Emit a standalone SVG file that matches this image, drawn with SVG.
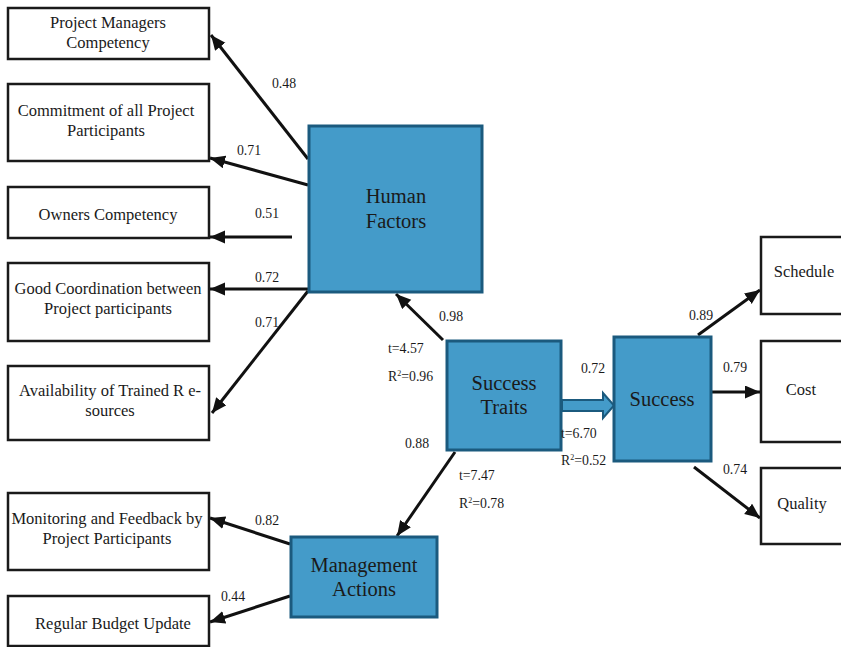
<svg xmlns="http://www.w3.org/2000/svg" width="841" height="647" viewBox="0 0 841 647">
  <style>
    .box { fill: #ffffff; stroke: #1a1a1a; stroke-width: 2.5; }
    .lv { fill: #449bc9; stroke: #1b5a7e; stroke-width: 3; }
    .t { font-family: "Liberation Serif", "Times New Roman", serif; fill: #1a1a1a; }
    .bt { font-size: 16.5px; text-anchor: middle; }
    .lt { font-size: 20.5px; text-anchor: middle; }
    .num { font-size: 13.8px; }
    .c { text-anchor: middle; }
    .edge { stroke: #111111; stroke-width: 3; fill: none; marker-end: url(#ah); }
  </style>
  <defs>
    <marker id="ah" markerUnits="userSpaceOnUse" markerWidth="16" markerHeight="14" refX="15" refY="6.5" orient="auto">
      <path d="M0,0 L15,6.5 L0,13 Z" fill="#111111"/>
    </marker>
  </defs>

  <!-- connectors -->
  <g id="connectors">
    <line class="edge" x1="308" y1="159" x2="211" y2="35"/>
    <line class="edge" x1="308" y1="185" x2="210" y2="158"/>
    <line class="edge" x1="292" y1="237" x2="210" y2="237"/>
    <line class="edge" x1="308" y1="289" x2="210" y2="289"/>
    <line class="edge" x1="308" y1="291" x2="212" y2="413"/>
    <line class="edge" x1="443" y1="340" x2="396" y2="294"/>
    <line class="edge" x1="455" y1="452" x2="397" y2="536"/>
    <line class="edge" x1="698" y1="335" x2="760" y2="290"/>
    <line class="edge" x1="712" y1="392" x2="760" y2="392"/>
    <line class="edge" x1="694" y1="467" x2="760" y2="518"/>
    <line class="edge" x1="290" y1="544" x2="210" y2="518"/>
    <line class="edge" x1="290" y1="596" x2="210" y2="622"/>
    <!-- wide structural arrow between the two constructs -->
    <polygon points="562,400 603,400 603,393 614,405.5 603,418 603,411 562,411" fill="#449bc9" stroke="#1b5a7e" stroke-width="2"/>
  </g>

  <!-- indicator boxes -->
  <g id="pm-competency">
    <rect class="box" x="8" y="8" width="201" height="51"/>
    <text class="t bt" x="108" y="28">Project Managers</text>
    <text class="t bt" x="108" y="48">Competency</text>
  </g>
  <g id="commitment">
    <rect class="box" x="8" y="84" width="201" height="77"/>
    <text class="t bt" x="106" y="116">Commitment of all Project</text>
    <text class="t bt" x="106" y="136">Participants</text>
  </g>
  <g id="owners-competency">
    <rect class="box" x="8" y="187" width="201" height="51"/>
    <text class="t bt" x="108" y="220">Owners Competency</text>
  </g>
  <g id="coordination">
    <rect class="box" x="8" y="263" width="201" height="78"/>
    <text class="t bt" x="108" y="294">Good Coordination between</text>
    <text class="t bt" x="108" y="314">Project participants</text>
  </g>
  <g id="trained-resources">
    <rect class="box" x="8" y="366" width="201" height="74"/>
    <text class="t bt" x="110" y="396">Availability of Trained R e-</text>
    <text class="t bt" x="110" y="416">sources</text>
  </g>
  <g id="monitoring">
    <rect class="box" x="8" y="493" width="201" height="77"/>
    <text class="t bt" x="107" y="524">Monitoring and Feedback by</text>
    <text class="t bt" x="107" y="544">Project Participants</text>
  </g>
  <g id="budget-update">
    <rect class="box" x="8" y="596" width="201" height="50"/>
    <text class="t bt" x="113" y="629">Regular Budget Update</text>
  </g>
  <g id="schedule">
    <rect class="box" x="761" y="237" width="82" height="77"/>
    <text class="t bt" x="804" y="277">Schedule</text>
  </g>
  <g id="cost">
    <rect class="box" x="761" y="341" width="82" height="101"/>
    <text class="t bt" x="801" y="395">Cost</text>
  </g>
  <g id="quality">
    <rect class="box" x="761" y="468" width="82" height="76"/>
    <text class="t bt" x="802" y="509">Quality</text>
  </g>

  <!-- latent constructs -->
  <g id="human-factors">
    <rect class="lv" x="309" y="126" width="173" height="166"/>
    <text class="t lt" x="396" y="203">Human</text>
    <text class="t lt" x="396" y="228">Factors</text>
  </g>
  <g id="success-traits">
    <rect class="lv" x="447" y="341" width="114" height="109"/>
    <text class="t lt" x="504" y="390">Success</text>
    <text class="t lt" x="504" y="414">Traits</text>
  </g>
  <g id="success">
    <rect class="lv" x="614" y="337" width="97" height="124"/>
    <text class="t lt" x="662" y="406">Success</text>
  </g>
  <g id="management-actions">
    <rect class="lv" x="291" y="537" width="146" height="80"/>
    <text class="t lt" x="364" y="572">Management</text>
    <text class="t lt" x="364" y="596">Actions</text>
  </g>

  <!-- path coefficients and statistics -->
  <g id="labels">
    <text class="t num c" x="284" y="88">0.48</text>
    <text class="t num c" x="249" y="155">0.71</text>
    <text class="t num c" x="267" y="218">0.51</text>
    <text class="t num c" x="267" y="282">0.72</text>
    <text class="t num c" x="267" y="327">0.71</text>
    <text class="t num c" x="451" y="321">0.98</text>
    <text class="t num" x="388" y="353">t=4.57</text>
    <text class="t num" x="388" y="381">R<tspan font-size="8" dy="-5">2</tspan><tspan dy="5">=0.96</tspan></text>
    <text class="t num c" x="417" y="448">0.88</text>
    <text class="t num" x="459" y="480">t=7.47</text>
    <text class="t num" x="459" y="508">R<tspan font-size="8" dy="-5">2</tspan><tspan dy="5">=0.78</tspan></text>
    <text class="t num c" x="593" y="373">0.72</text>
    <text class="t num" x="561" y="438">t=6.70</text>
    <text class="t num" x="561" y="465">R<tspan font-size="8" dy="-5">2</tspan><tspan dy="5">=0.52</tspan></text>
    <text class="t num c" x="701" y="320">0.89</text>
    <text class="t num c" x="735" y="372">0.79</text>
    <text class="t num c" x="735" y="474">0.74</text>
    <text class="t num c" x="267" y="525">0.82</text>
    <text class="t num c" x="233" y="601">0.44</text>
  </g>
</svg>
